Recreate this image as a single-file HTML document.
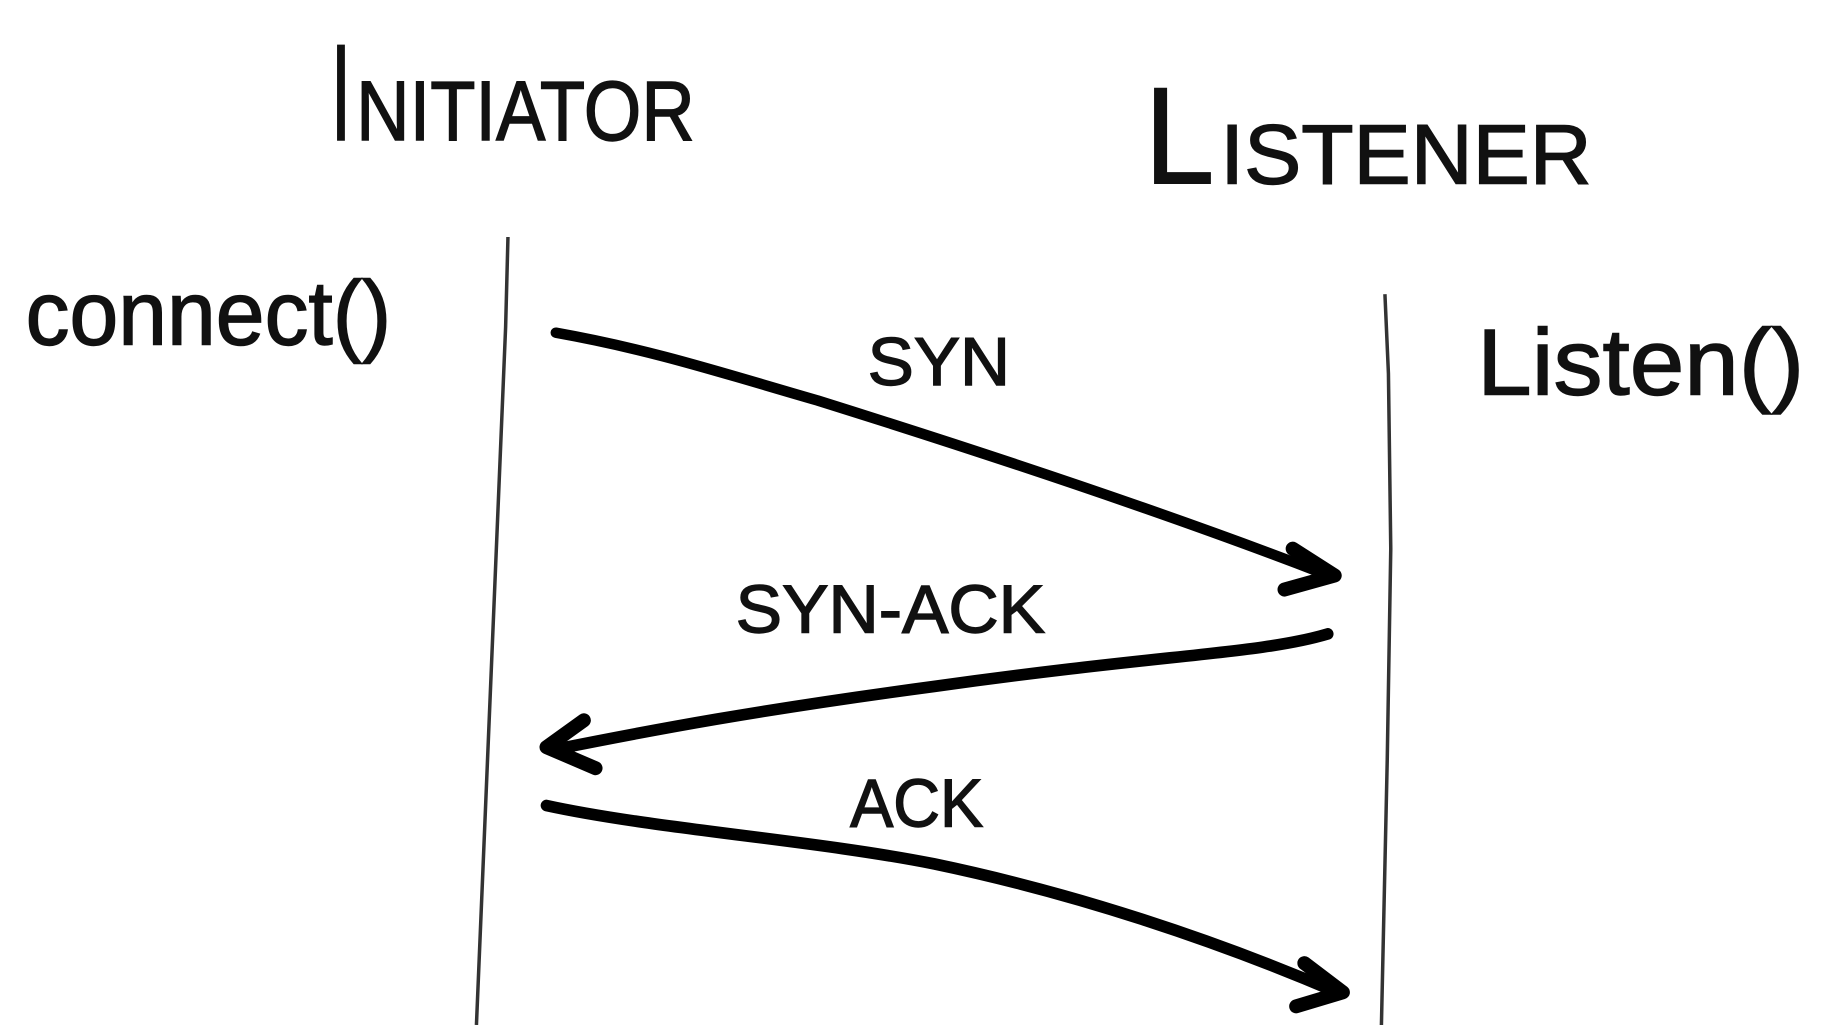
<!DOCTYPE html>
<html><head><meta charset="utf-8"><style>
html,body{margin:0;padding:0;background:#fff;}
svg{display:block;}
text{font-family:"Liberation Sans",sans-serif;fill:#111;stroke:#111;stroke-width:1.2;}
</style></head><body>
<svg width="1831" height="1025" viewBox="0 0 1568 878" preserveAspectRatio="none" xmlns="http://www.w3.org/2000/svg">
<rect width="1568" height="878" fill="#fff"/>
<text x="283" y="120" font-size="118" textLength="18" lengthAdjust="spacingAndGlyphs">I</text>
<text x="305" y="120" font-size="72" textLength="290" lengthAdjust="spacingAndGlyphs">NITIATOR</text>
<text x="980" y="157" font-size="118" textLength="60" lengthAdjust="spacingAndGlyphs">L</text>
<text x="1045" y="157" font-size="72" textLength="318" lengthAdjust="spacingAndGlyphs">ISTENER</text>
<text x="22" y="295" font-size="78" textLength="313" lengthAdjust="spacingAndGlyphs">connect()</text>
<text x="1265" y="338" font-size="80" textLength="280" lengthAdjust="spacingAndGlyphs">Listen()</text>
<text x="743" y="330" font-size="58" textLength="122" lengthAdjust="spacingAndGlyphs">SYN</text>
<text x="630" y="542" font-size="58" textLength="265" lengthAdjust="spacingAndGlyphs">SYN-ACK</text>
<text x="728" y="708" font-size="58" textLength="114" lengthAdjust="spacingAndGlyphs">ACK</text>
<path d="M435 203 L433 280 L408 878" stroke="#333" stroke-width="3" fill="none"/>
<path d="M1186 252 L1189 320 L1191 470 L1188 650 L1183 878" stroke="#333" stroke-width="3" fill="none"/>
<path d="M476 285 C560 300 620 320 700 343 C850 390 1000 440 1130 490" stroke="#000" stroke-width="9" fill="none" stroke-linecap="round"/>
<path d="M1107 470 L1143 493 L1100 505" stroke="#000" stroke-width="12" fill="none" stroke-linecap="round" stroke-linejoin="round"/>
<path d="M1137 543 C1080 560 1000 560 800 588 C650 608 560 625 475 642" stroke="#000" stroke-width="10" fill="none" stroke-linecap="round"/>
<path d="M500 617 L468 640 L510 658" stroke="#000" stroke-width="12" fill="none" stroke-linecap="round" stroke-linejoin="round"/>
<path d="M468 690 C560 710 700 720 800 740 C920 765 1040 805 1145 850" stroke="#000" stroke-width="10" fill="none" stroke-linecap="round"/>
<path d="M1117 825 L1150 850 L1110 862" stroke="#000" stroke-width="12" fill="none" stroke-linecap="round" stroke-linejoin="round"/>
</svg>
</body></html>
